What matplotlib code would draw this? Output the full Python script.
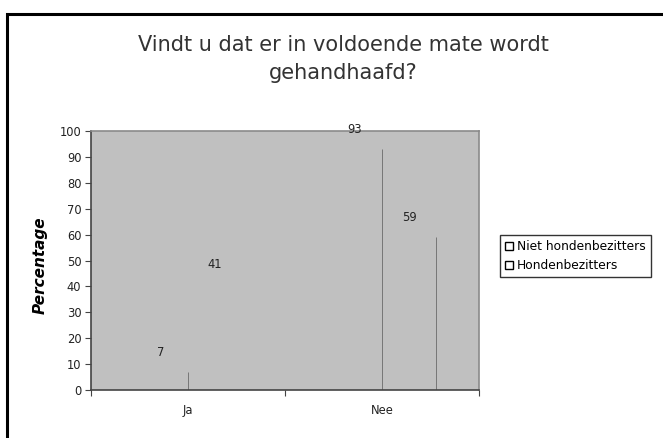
import numpy as np
import matplotlib
matplotlib.use("Agg")
import matplotlib.pyplot as plt
from matplotlib.patches import Rectangle
from matplotlib.lines import Line2D

plt.rcParams['font.family'] = ['DejaVu Sans']

# data
categories = ["Ja", "Nee"]
series_names = ["Niet hondenbezitters", "Hondenbezitters"]
niet_honden = [7, 93]
honden = [41, 59]
yticks = [0, 10, 20, 30, 40, 50, 60, 70, 80, 90, 100]

W, H = 663, 438
fig = plt.figure(figsize=(W / 100, H / 100), dpi=100)

# outer chart border (runs off the right and bottom edge)
fig.patches.append(Rectangle((7 / W, -0.1), 1.2, 1.1 - 14 / H, transform=fig.transFigure,
                             fill=False, edgecolor='black', linewidth=2.2))

ax = fig.add_axes([91 / W, 1 - 390 / H, (479 - 91) / W, (390 - 131) / H])
ax.set_facecolor('#c0c0c0')
ax.set_xlim(-0.5, 1.5)
ax.set_ylim(0, 100)

x = np.arange(len(categories))
off = 0.28
# bars come out as hairlines in the original
ax.bar(x, niet_honden, width=0.001, color='#6a6a6a', edgecolor='#6a6a6a', linewidth=0.6)
b2 = ax.bar(x + off, honden, width=0.001, color='#6a6a6a', edgecolor='#6a6a6a', linewidth=0.6)
b2[0].set_color('#c0c0c0')

for xi, v in zip(x, niet_honden):
    ax.text(xi - 0.14, v + 5, str(v), ha='center', va='bottom', fontsize=8.3, color='#222222')
for xi, v in zip(x + off, honden):
    ax.text(xi - 0.14, v + 5, str(v), ha='center', va='bottom', fontsize=8.3, color='#222222')

ax.set_yticks(yticks)
ax.set_yticklabels([str(t) for t in yticks], fontsize=8.3, color='#222222')
ax.set_xticks([-0.5, 0.5, 1.5])
ax.set_xticklabels([])
ax.set_xticks(x, minor=True)
ax.set_xticklabels(categories, minor=True, fontsize=8.3, color='#222222')
ax.tick_params(axis='x', which='minor', length=0, pad=10)
ax.tick_params(axis='x', which='major', length=4, direction='out', color='#444444')
ax.tick_params(axis='y', length=4, direction='out', color='#444444', pad=3)

for s in ['left', 'bottom']:
    ax.spines[s].set_color('#444444')
    ax.spines[s].set_linewidth(1.2)
for s in ['top', 'right']:
    ax.spines[s].set_color('#8a8a8a')
    ax.spines[s].set_linewidth(1.2)

fig.text(343 / W, 1 - 59 / H, "Vindt u dat er in voldoende mate wordt\ngehandhaafd?", ha='center',
         va='center', fontsize=15, color='#333333', linespacing=1.5)

fig.text(40 / W, 1 - 265 / H, "Percentage", rotation=90, ha='center', va='center',
         fontsize=11, fontweight='bold', fontstyle='italic', color='black')

handles = [Line2D([], [], marker='s', linestyle='none', markerfacecolor='white',
                  markeredgecolor='black', markersize=6) for _ in series_names]
leg = fig.legend(handles, series_names, loc='upper left', bbox_to_anchor=(500 / W, 1 - 235 / H),
                 frameon=True, fontsize=8.8, handlelength=0.6, handletextpad=0.4,
                 borderpad=0.4, labelspacing=0.5, fancybox=False, borderaxespad=0)
leg.get_frame().set_edgecolor('black')
leg.get_frame().set_linewidth(1)

fig.savefig("out.png", dpi=100)
